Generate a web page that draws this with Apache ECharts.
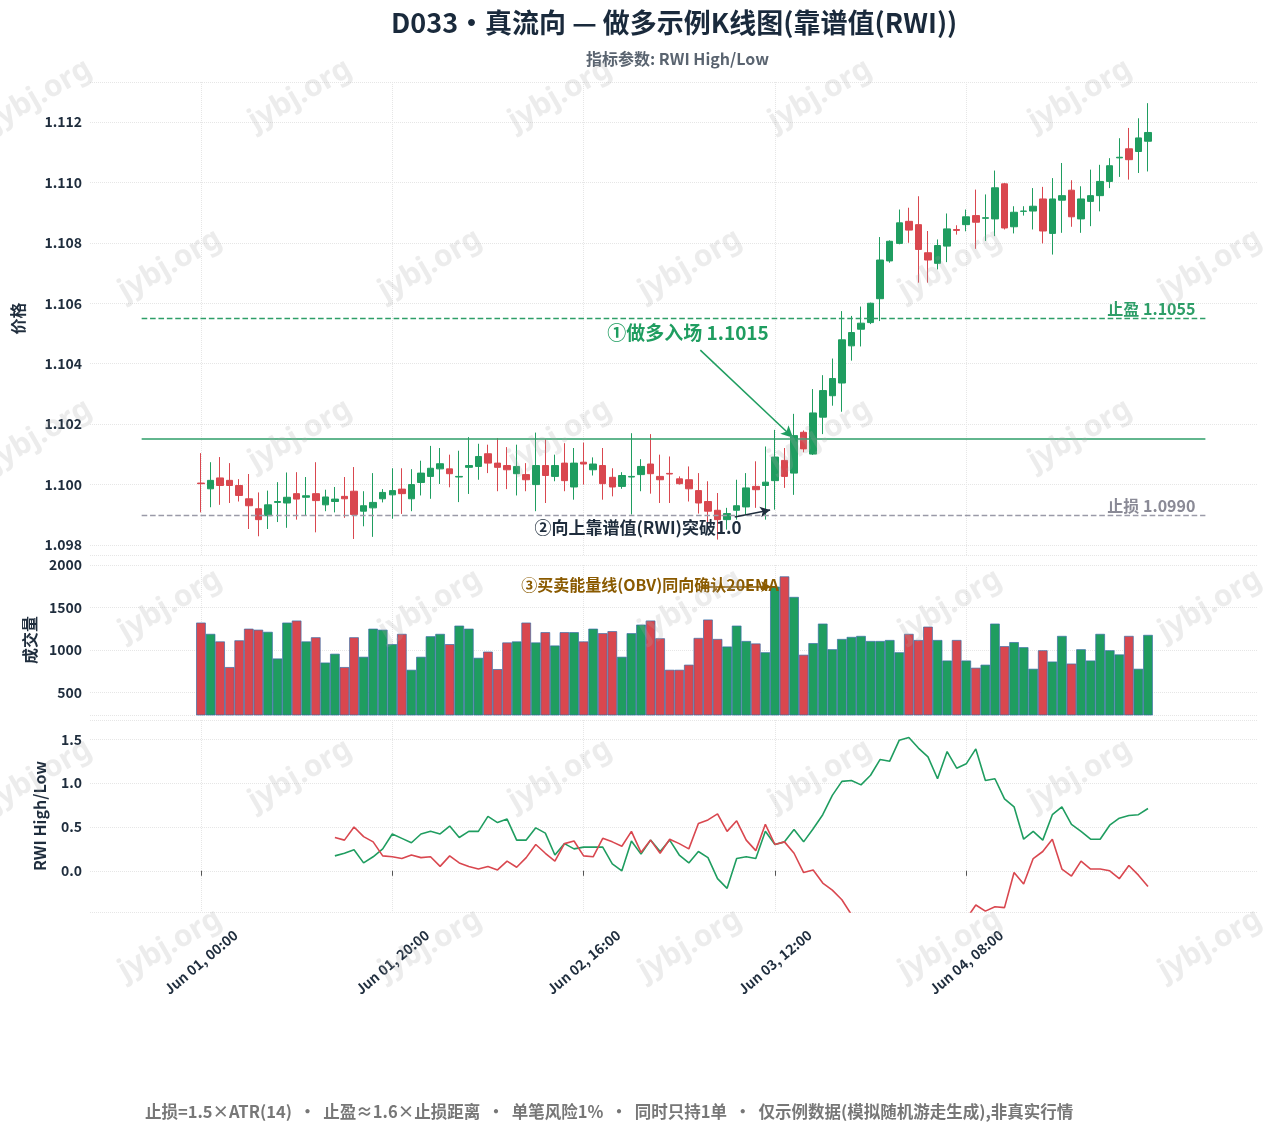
<!DOCTYPE html>
<html>
<head>
<meta charset="utf-8">
<script src="https://cdn.jsdelivr.net/npm/echarts@6.0.0/dist/echarts.min.js"></script>
<style>
html,body{margin:0;padding:0;background:#fff;}
#chart{width:1269px;height:1131px;}
</style>
</head>
<body>
<div id="chart"></div>
<script>
"use strict";
// 每根K线 = 1小时, 从 Jun 01 00:00 开始
const opens = [
    1.10005,1.09986,1.10022,1.10014,1.09997,1.09953,1.09920,1.09897,1.09941,1.09939,
    1.09970,1.09958,1.09970,1.09933,1.09944,1.09961,1.09978,1.09912,1.09923,1.09953,
    1.09966,1.09985,1.09953,1.10007,1.10027,1.10052,1.10052,1.10025,1.10057,1.10060,
    1.10102,1.10071,1.10063,1.10036,1.10033,1.10000,1.10063,1.10027,1.10071,1.09992,
    1.10074,1.10049,1.10063,1.10024,1.09994,1.10025,1.10033,1.10068,1.10027,1.10037,
    1.10019,1.10016,1.09980,1.09944,1.09915,1.09884,1.09915,1.09926,1.09994,1.09997,
    1.10013,1.10080,1.10038,1.10173,1.10101,1.10223,1.10294,1.10336,1.10459,1.10514,
    1.10536,1.10615,1.10740,1.10798,1.10871,1.10860,1.10767,1.10732,1.10789,1.10844,
    1.10860,1.10890,1.10881,1.10879,1.10995,1.10853,1.10904,1.10905,1.10945,1.10831,
    1.10941,1.10974,1.10879,1.10937,1.10956,1.11003,1.11081,1.11111,1.11102,1.11136
];
const closes = [
    1.10003,1.10014,1.09997,1.09997,1.09964,1.09930,1.09884,1.09933,1.09944,1.09958,
    1.09952,1.09963,1.09947,1.09959,1.09952,1.09953,1.09901,1.09930,1.09941,1.09974,
    1.09980,1.09970,1.10000,1.10038,1.10054,1.10069,1.10036,1.10027,1.10063,1.10093,
    1.10071,1.10057,1.10049,1.10060,1.10016,1.10063,1.10030,1.10063,1.10013,1.10071,
    1.10068,1.10068,1.10003,1.09992,1.10030,1.10027,1.10060,1.10036,1.10016,1.10035,
    1.10003,1.09986,1.09939,1.09912,1.09884,1.09904,1.09930,1.09989,1.09983,1.10008,
    1.10091,1.10027,1.10162,1.10118,1.10237,1.10311,1.10351,1.10479,1.10503,1.10534,
    1.10600,1.10743,1.10805,1.10866,1.10842,1.10778,1.10743,1.10791,1.10846,1.10841,
    1.10886,1.10868,1.10883,1.10982,1.10849,1.10901,1.10905,1.10921,1.10839,1.10945,
    1.10956,1.10886,1.10945,1.10956,1.11003,1.11055,1.11083,1.11075,1.11147,1.11165
];
const highs = [
    1.10104,1.10074,1.10091,1.10071,1.10018,1.10035,1.09974,1.09980,1.10008,1.10040,
    1.10041,1.10025,1.10074,1.09983,1.09992,1.10025,1.10058,1.09978,1.10038,1.09985,
    1.10054,1.10054,1.10051,1.10079,1.10128,1.10121,1.10099,1.10112,1.10157,1.10135,
    1.10132,1.10154,1.10124,1.10132,1.10071,1.10172,1.10150,1.10099,1.10137,1.10121,
    1.10139,1.10090,1.10121,1.10054,1.10041,1.10170,1.10084,1.10167,1.10099,1.10093,
    1.10027,1.10060,1.10038,1.10011,1.09972,1.09923,1.10016,1.10038,1.10077,1.10126,
    1.10181,1.10121,1.10234,1.10179,1.10316,1.10362,1.10417,1.10574,1.10558,1.10589,
    1.10602,1.10819,1.10808,1.10910,1.10916,1.10954,1.10839,1.10811,1.10897,1.10858,
    1.10910,1.10976,1.10960,1.11039,1.10998,1.10921,1.10921,1.10981,1.10985,1.11014,
    1.11064,1.11007,1.10987,1.11042,1.11058,1.11080,1.11146,1.11180,1.11212,1.11262
];
const lows = [
    1.09908,1.09925,1.09933,1.09939,1.09944,1.09853,1.09829,1.09853,1.09876,1.09857,
    1.09884,1.09898,1.09842,1.09912,1.09908,1.09890,1.09820,1.09862,1.09827,1.09941,
    1.09887,1.09903,1.09912,1.09964,1.09953,1.10002,1.09991,1.09942,1.09969,1.10016,
    1.10038,1.09978,1.09985,1.09964,1.09978,1.09912,1.09939,1.10011,1.09978,1.09950,
    1.10000,1.10030,1.09950,1.09961,1.09986,1.09901,1.09978,1.09970,1.09939,1.09939,
    1.10000,1.09944,1.09904,1.09864,1.09818,1.09851,1.09884,1.09901,1.09923,1.09884,
    1.09917,1.09989,1.09966,1.10107,1.10098,1.10167,1.10261,1.10241,1.10410,1.10457,
    1.10531,1.10541,1.10734,1.10795,1.10800,1.10668,1.10668,1.10712,1.10736,1.10827,
    1.10838,1.10780,1.10806,1.10822,1.10844,1.10831,1.10890,1.10844,1.10798,1.10761,
    1.10833,1.10853,1.10833,1.10855,1.10904,1.10981,1.11018,1.11009,1.11031,1.11036
];
const volumes = [
    1322,1189,1100,798,1113,1250,1238,1213,899,1322,
    1346,1100,1149,851,955,798,1149,919,1250,1238,
    1068,1189,766,919,1161,1189,1068,1286,1250,907,
    980,774,1088,1100,1322,1088,1209,1052,1209,1209,
    1100,1250,1197,1221,919,1197,1298,1346,1137,766,
    766,826,1141,1358,1129,1040,1286,1105,1076,972,
    1745,1866,1624,943,1080,1310,1008,1129,1153,1165,
    1105,1105,1117,972,1189,1117,1274,1117,875,1117,
    875,790,826,1310,1044,1092,1032,778,996,863,
    1165,839,1008,875,1189,996,947,1165,778,1177
];
// RWI 从第14根开始
const rwiStart = 14;
const rwiHigh = [
    0.17,0.20,0.24,0.09,0.16,0.25,0.42,0.37,0.32,0.42,
    0.45,0.42,0.51,0.38,0.45,0.45,0.62,0.55,0.59,0.35,
    0.35,0.49,0.43,0.18,0.31,0.25,0.27,0.27,0.27,0.08,
    0.00,0.34,0.19,0.35,0.22,0.35,0.18,0.09,0.22,0.15,
    -0.09,-0.20,0.14,0.16,0.14,0.45,0.30,0.33,0.47,0.33,
    0.48,0.64,0.86,1.02,1.03,0.98,1.09,1.27,1.25,1.49,
    1.52,1.40,1.30,1.05,1.36,1.17,1.22,1.39,1.03,1.05,
    0.82,0.73,0.36,0.45,0.35,0.64,0.73,0.53,0.45,0.36,
    0.36,0.52,0.60,0.63,0.64,0.71
];
const rwiLow = [
    0.38,0.35,0.50,0.39,0.33,0.17,0.16,0.14,0.18,0.15,
    0.16,0.05,0.17,0.09,0.05,0.02,0.05,0.01,0.11,0.04,
    0.15,0.30,0.20,0.11,0.31,0.34,0.17,0.16,0.37,0.33,
    0.28,0.45,0.21,0.35,0.20,0.36,0.31,0.25,0.54,0.58,
    0.65,0.45,0.57,0.35,0.23,0.53,0.30,0.33,0.20,-0.02,
    0.01,-0.14,-0.22,-0.33,-0.50,-0.62,-0.75,-0.85,-0.92,-0.98,
    -1.02,-0.97,-0.90,-0.82,-0.74,-0.66,-0.55,-0.39,-0.46,-0.41,
    -0.42,-0.02,-0.15,0.14,0.22,0.36,0.02,-0.06,0.11,0.02,
    0.02,0.00,-0.09,0.06,-0.05,-0.18
];
const xTicks = [0,20,40,60,80];
const entryPrice = 1.1015, takeProfit = 1.1055, stopLoss = 1.0990;

const UP = "#1f9d60", DOWN = "#d9474f";
const TXT = "#1f2d3d";
const xMin = -11.6, xMax = 110.5;

function timeLabel(h){
    let d = new Date(Date.UTC(2024,5,1,0,0) + h*3600000);
    let mon = ["Jan","Feb","Mar","Apr","May","Jun","Jul","Aug","Sep","Oct","Nov","Dec"][d.getUTCMonth()];
    let dd = String(d.getUTCDate()).padStart(2,"0");
    let hh = String(d.getUTCHours()).padStart(2,"0");
    return mon+" "+dd+", "+hh+":00";
}

let candleData = opens.map((o,i)=>[i,o,closes[i],lows[i],highs[i]]);
let volData = volumes.map((v,i)=>({
    value:[i,v],
    itemStyle:{color: closes[i]>=opens[i] ? UP : DOWN}
}));
let rwiH = rwiHigh.map((v,i)=>[i+rwiStart,v]);
let rwiL = rwiLow.map((v,i)=>[i+rwiStart,v]);

const splitDot = {show:true,lineStyle:{color:"#e6e6e6",type:"dotted"}};
function xAxisOf(idx,showLabel){
    return {
        type:"value", gridIndex:idx, min:xMin, max:xMax,
        axisLine:{show:false},
        axisTick:{show:showLabel,customValues:xTicks,length:5,lineStyle:{color:"#555"}},
        axisLabel:{show:showLabel,customValues:xTicks,rotate:40,formatter:timeLabel,
            align:"center",verticalAlign:"middle",
            color:TXT,fontWeight:"bold",fontSize:14,margin:50},
        splitLine:splitDot
    };
}
const yLab = {color:TXT,fontWeight:"bold",fontSize:14,showMinLabel:false,showMaxLabel:false};
function yAxisOf(idx,opt){
    return Object.assign({
        type:"value", gridIndex:idx, scale:true,
        axisLine:{show:false}, axisTick:{show:false},
        splitLine:splitDot,
        nameLocation:"middle",
        nameTextStyle:{color:TXT,fontWeight:"bold",fontSize:16}
    },opt);
}

// 水印
let marks = [];
for(let r=0;r<6;r++){
    for(let c=0;c<6;c++){
        marks.push({
            type:"text", x:(r%2? 170:40)+c*260, y:95+r*170, rotation:Math.PI/6,
            style:{text:"jybj.org",fill:"rgba(170,170,170,0.22)",font:"bold 30px 'Noto Sans'",align:"center",verticalAlign:"middle"},
            silent:true, z:100
        });
    }
}

let option = {
    animation:false,
    backgroundColor:"#fff",
    textStyle:{fontFamily:"'Noto Sans CJK SC','Noto Sans',sans-serif"},
    title:[{
        text:"D033・真流向 — 做多示例K线图(靠谱值(RWI))",
        left:386, top:4,
        textStyle:{color:"#1a2a3c",fontSize:27,fontWeight:"bold"}
    },{
        text:"指标参数: RWI High/Low",
        left:581, top:46,
        textStyle:{color:"#5a6470",fontSize:16,fontWeight:"bold"}
    },{
        text:"止损=1.5×ATR(14)  ·  止盈≈1.6×止损距离  ·  单笔风险1%  ·  同时只持1单  ·  仅示例数据(模拟随机游走生成),非真实行情",
        left:140, top:1098,
        textStyle:{color:"#777",fontSize:16.5,fontWeight:"bold"}
    }],
    grid:[
        {left:90,right:11,top:82,height:473},
        {left:90,right:11,top:565,height:150},
        {left:90,right:11,top:720,height:192}
    ],
    xAxis:[xAxisOf(0,false),xAxisOf(1,false),xAxisOf(2,true)],
    yAxis:[
        yAxisOf(0,{min:1.09767,max:1.11332,splitNumber:7,name:"价格",nameGap:64,
            axisLabel:Object.assign({},yLab,{formatter:v=>v.toFixed(3)})}),
        yAxisOf(1,{min:234,max:2000,splitNumber:4,name:"成交量",nameGap:52,
            axisLabel:Object.assign({},yLab,{showMaxLabel:true,formatter:v=>String(v)})}),
        yAxisOf(2,{min:-0.47,max:1.72,splitNumber:5,name:"RWI High/Low",nameGap:42,
            axisLabel:Object.assign({},yLab,{formatter:v=>v.toFixed(1)})})
    ],
    graphic:marks.concat([
        {type:"text",x:688,y:333,style:{text:"①做多入场 1.1015",fill:"#1f9d60",font:"bold 19px 'Noto Sans CJK SC'",align:"center",verticalAlign:"middle"},z:50},
        {type:"text",x:638,y:528,style:{text:"②向上靠谱值(RWI)突破1.0",fill:TXT,font:"bold 17px 'Noto Sans CJK SC'",align:"center",verticalAlign:"middle"},z:50},
        {type:"text",x:650,y:585,style:{text:"③买卖能量线(OBV)同向确认20EMA",fill:"#8a5a00",font:"bold 16px 'Noto Sans CJK SC'",align:"center",verticalAlign:"middle"},z:50}
    ]),
    series:[{
        type:"candlestick", xAxisIndex:0, yAxisIndex:0,
        data:candleData, encode:{x:0,y:[1,2,3,4]},
        barWidth:7,
        itemStyle:{color:UP,color0:DOWN,borderColor:UP,borderColor0:DOWN,borderWidth:1},
        markLine:{
            silent:true, symbol:["none","none"], animation:false,
            data:[
                [{coord:[-6.2,entryPrice],lineStyle:{color:"#2e9e68",width:1.6,type:"solid"},label:{show:false}},{coord:[105,entryPrice]}],
                [{coord:[-6.2,takeProfit],lineStyle:{color:"#2e9e68",width:1.4,type:"dashed"},
                    label:{show:true,position:"insideEndTop",formatter:"止盈 1.1055",color:"#2e9e68",fontWeight:"bold",fontSize:16,distance:[10,1]}},{coord:[105,takeProfit]}],
                [{coord:[-6.2,stopLoss],lineStyle:{color:"#9a9aa8",width:1.4,type:"dashed"},
                    label:{show:true,position:"insideEndTop",formatter:"止损 1.0990",color:"#8a8a96",fontWeight:"bold",fontSize:16,distance:[10,1]}},{coord:[105,stopLoss]}],
                [{coord:[52.2,1.10445],symbol:"none",lineStyle:{color:"#1f9d60",width:1.5,type:"solid"},label:{show:false}},{coord:[61.9,1.10155],symbol:"arrow",symbolSize:[9,12]}],
                [{coord:[55.8,1.09893],symbol:"none",lineStyle:{color:TXT,width:1.5,type:"solid"},label:{show:false}},{coord:[59.5,1.09916],symbol:"arrow",symbolSize:[8,10]}]
            ]
        }
    },{
        type:"bar", xAxisIndex:1, yAxisIndex:1,
        data:volData, barWidth:9.6,
        itemStyle:{borderColor:"#3b6ea8",borderWidth:0.7},
        markLine:{
            silent:true, animation:false,
            data:[
                [{coord:[52.2,1745],symbol:"none",lineStyle:{color:"#8a5a00",width:1.5,type:"solid"},label:{show:false}},{coord:[59.6,1745],symbol:"arrow",symbolSize:[8,10]}]
            ]
        }
    },{
        type:"line", xAxisIndex:2, yAxisIndex:2, data:rwiH,
        showSymbol:false, lineStyle:{color:"#1f9d60",width:1.6}, itemStyle:{color:"#1f9d60"}
    },{
        type:"line", xAxisIndex:2, yAxisIndex:2, data:rwiL,
        showSymbol:false, lineStyle:{color:"#d9474f",width:1.6}, itemStyle:{color:"#d9474f"}
    }]
};

let chart = echarts.init(document.getElementById("chart"));
chart.setOption(option);
</script>
</body>
</html>
